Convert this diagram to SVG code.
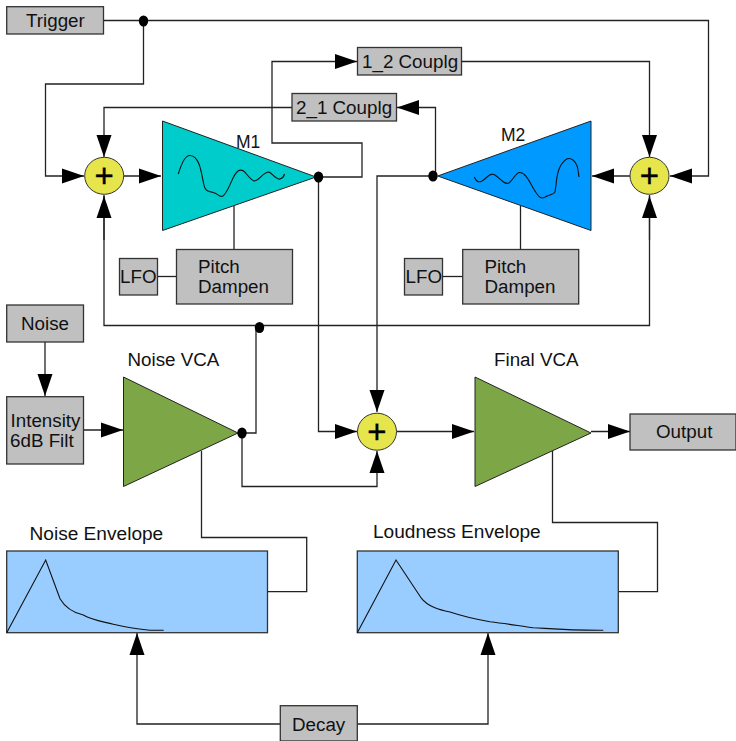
<svg xmlns="http://www.w3.org/2000/svg" width="736" height="741" viewBox="0 0 736 741">
<style>
text{font-family:"Liberation Sans",Arial,sans-serif;font-size:18.8px;fill:#111}
.b{fill:#c0c0c0;stroke:#333;stroke-width:1.3}
.e{fill:#99ccff;stroke:#333;stroke-width:1.3}
.t{stroke:#222;stroke-width:1}
.w{fill:none;stroke:#111;stroke-width:1.1}
.s{fill:#e6e64c;stroke:#333;stroke-width:1}
.p{font-size:33px;font-weight:normal;text-anchor:middle;fill:#000;stroke:#000;stroke-width:.4}
.l{font-size:19.100px}
.q{font-size:17.500px}
#c path{fill:none;stroke:#222;stroke-width:1.3}
#c .m{marker-end:url(#a)}
</style>
<defs>
<marker id="a" markerUnits="userSpaceOnUse" markerWidth="23" markerHeight="16" refX="22" refY="8" orient="auto"><path d="M0 0L22 7.500L0 15Z" transform="translate(0 .5)" fill="#000"/></marker>
</defs>
<g id="c">
<path d="M103.500 20.500H708.500V176H670" class="m"/>
<path d="M143.500 21V84H45.500V176H84" class="m"/>
<path d="M124 176H161" class="m"/>
<path d="M292 107.500H104V157" class="m"/>
<path d="M318.500 177H362V143H272V61.500H357" class="m"/>
<path d="M461.500 61.500H649.500V157" class="m"/>
<path d="M435.500 176V107.500H397" class="m"/>
<path d="M630 176H592" class="m"/>
<path d="M433 176H377V412" class="m"/>
<path d="M318.500 177V431.500H357" class="m"/>
<path d="M104 195V325.500H649.500V195"/>
<path d="M104 240V196" class="m"/>
<path d="M649.500 240V196" class="m"/>
<path d="M242 433H256V327"/>
<path d="M242 433V486.500H377V451" class="m"/>
<path d="M45 342V396" class="m"/>
<path d="M84 430H123" class="m"/>
<path d="M397 431.500H474" class="m"/>
<path d="M591 431.500H630" class="m"/>
<path d="M234 205V249.500"/>
<path d="M157.500 276.500H176.500"/>
<path d="M520.500 206V249.500"/>
<path d="M442.500 276.500H462.500"/>
<path d="M201.500 451V537.500H306.700V591.700H267.500"/>
<path d="M552.500 451V522.500H657.500V591.700H618.300"/>
<path d="M280.300 724H137V633" class="m"/>
<path d="M357.300 724H488V633" class="m"/>
</g>
<g id="trigger"><rect class="b" x="6.700" y="6.700" width="96.800" height="27.300"/><text x="26" y="27">Trigger</text></g>
<g id="junction-trigger"><ellipse cx="143.500" cy="21" rx="4.700" ry="5.500"/></g>
<g id="coupling-1-2"><rect class="b" x="357.500" y="47.500" width="104" height="27.500"/><text x="362" y="68">1_2 Couplg</text></g>
<g id="coupling-2-1"><rect class="b" x="292" y="93.500" width="104.500" height="27.500"/><text x="296" y="114">2_1 Couplg</text></g>
<g id="sum-m1"><ellipse class="s" cx="104.200" cy="175.800" rx="19.500" ry="18.500"/><text class="p" x="104.200" y="187">+</text></g>
<g id="sum-m2"><ellipse class="s" cx="649.500" cy="175.800" rx="19.500" ry="18.500"/><text class="p" x="649.500" y="187">+</text></g>
<g id="m1"><path class="t" d="M162.500 121V230.500L316 177Z" fill="#00cccc"/><path class="w" d="M178.300 174C181 165 185 155 190 155.500C199 156 201 170 203.500 183C205 192 208 191 213 192.500C218 193 219 198 223 196C230 190 232 175 238 171C245 167 247 178 254 181C259 181 263 172 269 172C273 174 276 180 280 179C283 178 284 176 284.500 174"/><text class="q" x="236" y="148">M1</text></g>
<g id="junction-m1"><ellipse cx="318.500" cy="177" rx="4.700" ry="5.500"/></g>
<g id="m2"><path class="t" d="M437.700 176L591 121V230.500Z" fill="#0099ff"/><path class="w" d="M474.300 177C476 181 478 183 482 181C487 178 490 172 495 175C501 179 504 185 509 183C514 179 516 172 520 172.500C527 173 531 186 537 194C541 200 544 198 547 196C552 194 553 194.500 555 192C557 180 556 173 561 165C566 158 569 157 573 160C578 164 578 170 579 177"/><text class="q" x="501" y="140.500">M2</text></g>
<g id="junction-m2"><ellipse cx="433" cy="176" rx="4.700" ry="5.500"/></g>
<g id="lfo-1"><rect class="b" x="119.500" y="258.500" width="38" height="36.500"/><text x="120" y="283">LFO</text></g>
<g id="pitch-1"><rect class="b" x="176.500" y="249.500" width="116" height="54.500"/><text x="198" y="273">Pitch</text><text x="198" y="293">Dampen</text></g>
<g id="lfo-2"><rect class="b" x="404.500" y="258.500" width="38" height="36.500"/><text x="405.500" y="283">LFO</text></g>
<g id="pitch-2"><rect class="b" x="462.700" y="249.500" width="116" height="54.500"/><text x="484.500" y="273">Pitch</text><text x="484.500" y="293">Dampen</text></g>
<g id="noise"><rect class="b" x="6.700" y="305" width="76.800" height="37"/><text x="21" y="330">Noise</text></g>
<g id="intensity"><rect class="b" x="6.700" y="396.700" width="76.800" height="67.300"/><text x="10.500" y="427">Intensity</text><text x="10" y="447">6dB Filt</text></g>
<g id="junction-noise"><ellipse cx="259.500" cy="327.500" rx="4.700" ry="5.500"/></g>
<g id="noise-vca"><path class="t" d="M123.500 377V486.500L238 433Z" fill="#7da647"/><text x="127.500" y="366">Noise VCA</text></g>
<g id="junction-vca"><ellipse cx="242" cy="433" rx="4.700" ry="5.500"/></g>
<g id="sum-out"><ellipse class="s" cx="377" cy="431.700" rx="19.500" ry="18.500"/><text class="p" x="377" y="443">+</text></g>
<g id="final-vca"><path class="t" d="M475 377V486.500L591 433Z" fill="#7da647"/><text x="494" y="366">Final VCA</text></g>
<g id="output"><rect class="b" x="630" y="414" width="106" height="36"/><text x="656" y="438">Output</text></g>
<g id="noise-envelope"><rect class="e" x="6.700" y="551" width="260.800" height="81.700"/><path class="w" d="M6.700 632.700L45.700 560L60 598.700C66 609 75 613 83.300 615C92 620 100 621 113.300 624.300C125 627 135 629 150 630.300H163.700"/><text class="l" x="29.500" y="539.500">Noise Envelope</text></g>
<g id="loudness-envelope"><rect class="e" x="357.300" y="551" width="261" height="81.700"/><path class="w" d="M357.300 632.700L396 560L420.700 597.300C428 607 440 610 450 612C465 617 480 620 490 621.700C510 624 525 627 533.300 627.700C555 629 570 630.500 603.300 630.300"/><text class="l" x="373" y="538">Loudness Envelope</text></g>
<g id="decay"><rect class="b" x="280.300" y="705.700" width="77" height="35.300"/><text x="292" y="731">Decay</text></g>
</svg>
